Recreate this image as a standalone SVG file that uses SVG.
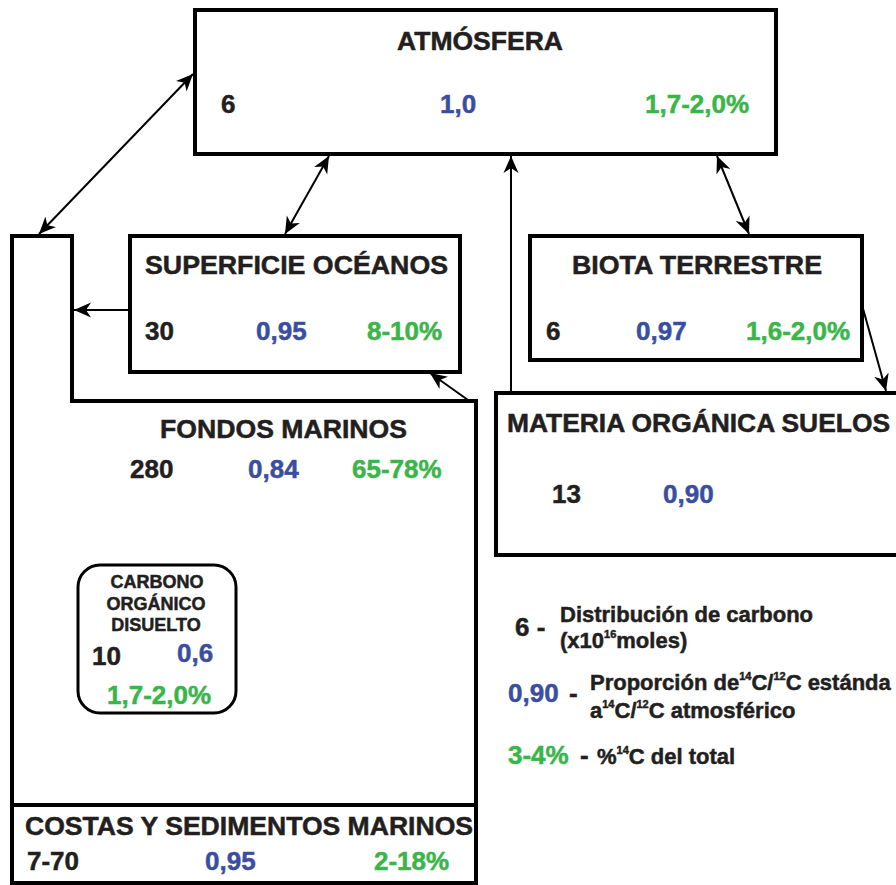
<svg xmlns="http://www.w3.org/2000/svg" width="896" height="885" viewBox="0 0 896 885">
<defs>
<style>
.box{fill:#fff;stroke:#000;stroke-width:4}
.rbox{fill:#fff;stroke:#000;stroke-width:3}
text{font-family:"Liberation Sans",Arial,sans-serif;font-weight:bold;stroke-width:0.5}
.t{font-size:25px;fill:#231f20;stroke:#231f20}
.n{font-size:26px;fill:#231f20;stroke:#231f20}
.b{font-size:26px;fill:#3a4ea1;stroke:#3a4ea1}
.g{font-size:26px;fill:#3ab54a;stroke:#3ab54a}
.s{font-size:18px;fill:#231f20;stroke:#231f20}
.l{font-size:22px;fill:#231f20;stroke:#231f20}
.conn{stroke:#000;stroke-width:2;fill:none;marker-end:url(#ah)}
.dbl{marker-start:url(#ah)}
</style>
<marker id="ah" viewBox="-17 -8 18 16" refX="0" refY="0" markerWidth="18" markerHeight="16" orient="auto-start-reverse" markerUnits="userSpaceOnUse">
<path d="M0,0 L-17,-7.5 L-12,0 L-17,7.5 Z" fill="#000"/>
</marker>
</defs>

<g id="fondos">
<polygon class="box" points="12,236 72,236 72,401 476,401 476,805 12,805"/>
<text class="t" x="160" y="438" textLength="247" lengthAdjust="spacingAndGlyphs">FONDOS MARINOS</text>
<text class="n" x="130" y="478">280</text>
<text class="b" x="248" y="478">0,84</text>
<text class="g" x="352" y="478">65-78%</text>
</g>

<g id="costas">
<rect class="box" x="12" y="805" width="464" height="78"/>
<text class="t" x="25" y="835" textLength="448" lengthAdjust="spacingAndGlyphs">COSTAS Y SEDIMENTOS MARINOS</text>
<text class="n" x="27" y="870">7-70</text>
<text class="b" x="205" y="870">0,95</text>
<text class="g" x="374" y="870">2-18%</text>
</g>

<g id="carbono">
<rect class="rbox" x="78" y="565" width="158" height="148" rx="22"/>
<text class="s" x="157" y="588" text-anchor="middle">CARBONO</text>
<text class="s" x="156" y="610" text-anchor="middle">ORGÁNICO</text>
<text class="s" x="156" y="631" text-anchor="middle">DISUELTO</text>
<text class="n" x="92" y="665">10</text>
<text class="b" x="177" y="662">0,6</text>
<text class="g" x="107" y="704">1,7-2,0%</text>
</g>

<g id="atmosfera">
<rect class="box" x="195" y="10" width="581" height="144"/>
<text class="t" x="397" y="50" textLength="166" lengthAdjust="spacingAndGlyphs">ATMÓSFERA</text>
<text class="n" x="221" y="113">6</text>
<text class="b" x="440" y="113">1,0</text>
<text class="g" x="645" y="113">1,7-2,0%</text>
</g>

<g id="superficie">
<rect class="box" x="130" y="236" width="330" height="136"/>
<text class="t" x="145" y="274" textLength="303" lengthAdjust="spacingAndGlyphs">SUPERFICIE OCÉANOS</text>
<text class="n" x="145" y="340">30</text>
<text class="b" x="256" y="340">0,95</text>
<text class="g" x="367" y="340">8-10%</text>
</g>

<g id="biota">
<rect class="box" x="530" y="236" width="332" height="124"/>
<text class="t" x="572" y="274" textLength="250" lengthAdjust="spacingAndGlyphs">BIOTA TERRESTRE</text>
<text class="n" x="546" y="340">6</text>
<text class="b" x="636" y="340">0,97</text>
<text class="g" x="746" y="340">1,6-2,0%</text>
</g>

<g id="materia">
<rect class="box" x="496" y="393" width="420" height="162"/>
<text class="t" x="507" y="432" textLength="383" lengthAdjust="spacingAndGlyphs">MATERIA ORGÁNICA SUELOS</text>
<text class="n" x="552" y="503">13</text>
<text class="b" x="663" y="503">0,90</text>
</g>

<g id="connectors">
<line class="conn dbl" x1="193" y1="74" x2="39" y2="234"/>
<line class="conn dbl" x1="329" y1="156" x2="285" y2="234"/>
<line class="conn dbl" x1="717" y1="156" x2="749" y2="234"/>
<line class="conn" x1="511" y1="393" x2="511" y2="156"/>
<line class="conn" x1="862" y1="305" x2="886" y2="391"/>
<line class="conn" x1="130" y1="310" x2="74" y2="310"/>
<line class="conn" x1="468" y1="400" x2="430" y2="373"/>
</g>

<g id="legend">
<text class="n" x="515" y="636">6 -</text>
<text class="l" x="560" y="622">Distribución de carbono</text>
<text class="l" x="560" y="648">(x10<tspan font-size="11" dy="-10">16</tspan><tspan dy="10">moles)</tspan></text>
<text class="b" x="508" y="702">0,90</text>
<text class="n" x="569" y="702">-</text>
<text class="l" x="590" y="690">Proporción de<tspan font-size="11" dy="-10">14</tspan><tspan dy="10">C/</tspan><tspan font-size="11" dy="-10">12</tspan><tspan dy="10">C estánda</tspan></text>
<text class="l" x="590" y="718">a<tspan font-size="11" dy="-10">14</tspan><tspan dy="10">C/</tspan><tspan font-size="11" dy="-10">12</tspan><tspan dy="10">C atmosférico</tspan></text>
<text class="g" x="508" y="764">3-4%</text>
<text class="n" x="580" y="764">-</text>
<text class="l" x="597" y="764">%<tspan font-size="11" dy="-10">14</tspan><tspan dy="10">C del total</tspan></text>
</g>
</svg>
